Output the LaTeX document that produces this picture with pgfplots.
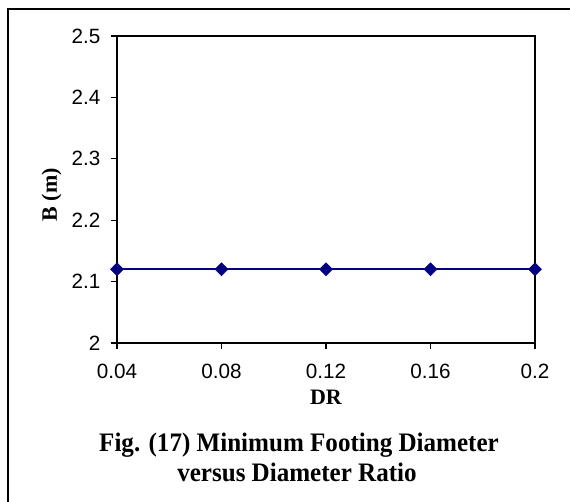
\documentclass[border=0pt]{standalone}
\usepackage{pgfplots}
\pgfplotsset{compat=1.18}
\usepackage{fontspec}
\setmainfont{Liberation Sans}
\newfontfamily\tnr{Liberation Serif}
\newfontfamily\tnrcap[FakeStretch=0.94]{Liberation Serif}
\definecolor{navy}{RGB}{0,0,128}
\begin{document}
\begin{tikzpicture}[x=0.75pt,y=0.75pt]
\path[use as bounding box] (0,0) rectangle (570,502);
\draw[line width=1.5pt] (8,0) -- (8,493) -- (570,493);
\begin{axis}[
  at={(87.75pt,119.25pt)}, anchor=south west,
  scale only axis, width=313.5pt, height=230.25pt,
  xmin=0.04, xmax=0.2, ymin=2, ymax=2.5,
  xtick={0.04,0.08,0.12,0.16,0.2},
  ytick={2,2.1,2.2,2.3,2.4,2.5},
  xticklabels={0.04,0.08,0.12,0.16,0.2},
  yticklabels={2,2.1,2.2,2.3,2.4,2.5},
  tick pos=left,
  tick align=outside, major tick length=4.5pt,
  tick style={black, line width=1pt},
  axis line style={line width=1.1pt},
  tick label style={font=\fontsize{15.5}{17}\selectfont},
  /pgf/number format/assume math mode=true,
  xticklabel style={yshift=-7.5pt},
  yticklabel style={xshift=-4.5pt},
  xlabel={\tnr\bfseries\fontsize{16.5}{18}\selectfont DR},
  ylabel={\tnr\bfseries\fontsize{16.5}{18}\selectfont B (m)},
  xlabel style={at={(axis description cs:0.5,0)}, anchor=base, yshift=-46.5pt},
  ylabel style={at={(axis description cs:0,0.5)}, anchor=base, yshift=45pt, xshift=-4pt},
  clip=false,
]
\addplot[color=navy, line width=1.5pt, mark=square*, mark size=3.4pt, mark options={rotate=45, fill=navy, line width=0.5pt}]
  coordinates {(0.04,2.12) (0.08,2.12) (0.12,2.12) (0.16,2.12) (0.2,2.12)};
\end{axis}
\node[font=\tnrcap\bfseries\fontsize{20}{22}\selectfont, anchor=base] at (299,50) {Fig. (17) Minimum Footing Diameter};
\node[font=\tnrcap\bfseries\fontsize{20}{22}\selectfont, anchor=base] at (297,20) {versus Diameter Ratio};
\end{tikzpicture}
\end{document}
